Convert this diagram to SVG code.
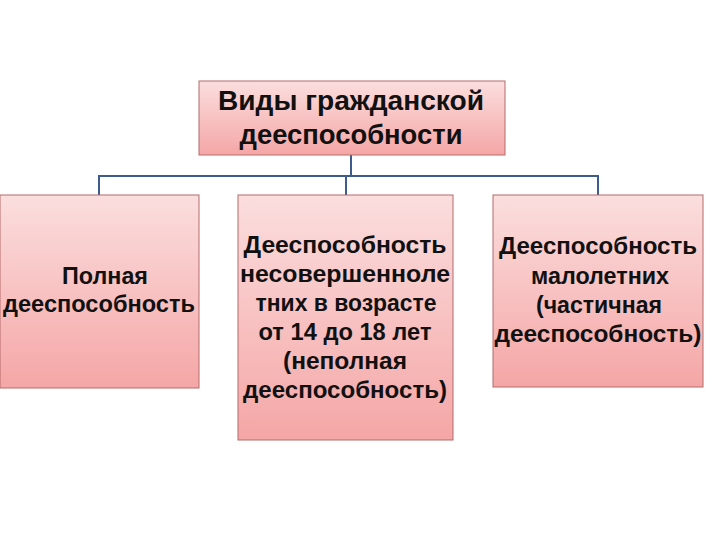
<svg xmlns="http://www.w3.org/2000/svg" width="720" height="540" viewBox="0 0 720 540">
<defs>
<linearGradient id="g" x1="0" y1="0" x2="0" y2="1">
<stop offset="0" stop-color="#fbdede"/>
<stop offset="1" stop-color="#f5a6a6"/>
</linearGradient>
<style>
.box{fill:url(#g);stroke:#b46a6a;stroke-width:1}
.t{font-family:"Liberation Sans",Arial,sans-serif;font-weight:bold;fill:#111;text-anchor:middle}
.conn{stroke:#3d5b8c;stroke-width:2;fill:none}
</style>
</defs>
<rect width="720" height="540" fill="#fff"/>
<g id="connectors">
<path class="conn" d="M351 155 V176 M99 176 H598 M99 175 V195 M346 175 V195 M598 175 V195"/>
</g>
<g id="root">
<rect class="box" x="199" y="81" width="306" height="74"/>
<text class="t" font-size="27"><tspan x="351" y="110" textLength="266" lengthAdjust="spacingAndGlyphs">Виды гражданской</tspan><tspan x="351" y="144" textLength="223" lengthAdjust="spacingAndGlyphs">дееспособности</tspan></text>
</g>
<g id="full">
<rect class="box" x="0" y="195" width="199" height="193"/>
<text class="t" font-size="23"><tspan x="105" y="284" textLength="86" lengthAdjust="spacingAndGlyphs">Полная</tspan><tspan x="99" y="312" textLength="192" lengthAdjust="spacingAndGlyphs">дееспособность</tspan></text>
</g>
<g id="partial-minors">
<rect class="box" x="238" y="195" width="215" height="245"/>
<text class="t" font-size="24"><tspan x="345" y="253" textLength="203" lengthAdjust="spacingAndGlyphs">Дееспособность</tspan><tspan x="345" y="282" textLength="210" lengthAdjust="spacingAndGlyphs">несовершенноле</tspan><tspan x="346" y="311" textLength="181" lengthAdjust="spacingAndGlyphs">тних в возрасте</tspan><tspan x="345" y="340" textLength="173" lengthAdjust="spacingAndGlyphs">от 14 до 18 лет</tspan><tspan x="345" y="369" textLength="124" lengthAdjust="spacingAndGlyphs">(неполная</tspan><tspan x="345" y="398" textLength="204" lengthAdjust="spacingAndGlyphs">дееспособность)</tspan></text>
</g>
<g id="young">
<rect class="box" x="493" y="195" width="210" height="192"/>
<text class="t" font-size="24"><tspan x="598" y="254" textLength="198" lengthAdjust="spacingAndGlyphs">Дееспособность</tspan><tspan x="600" y="284" textLength="138" lengthAdjust="spacingAndGlyphs">малолетних</tspan><tspan x="599" y="313" textLength="126" lengthAdjust="spacingAndGlyphs">(частичная</tspan><tspan x="598" y="342" textLength="207" lengthAdjust="spacingAndGlyphs">дееспособность)</tspan></text>
</g>
</svg>
